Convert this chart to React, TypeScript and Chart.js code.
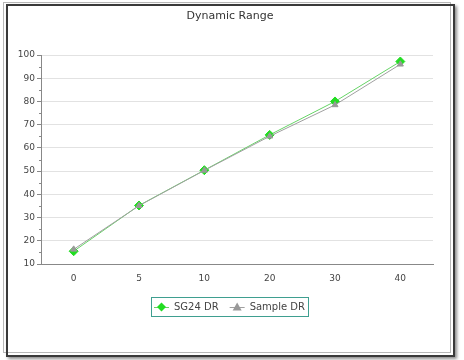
import React, { useEffect, useRef } from "react";
import { Chart, registerables } from "chart.js";

Chart.register(...registerables);

const categories = ["0", "5", "10", "20", "30", "40"];
const sg24Values = [15.5, 35.2, 50.4, 65.6, 80, 97.2];
const sampleValues = [16.3, 35.1, 50.3, 65, 78.5, 96];
const seriesNames = ["SG24 DR", "Sample DR"];
const titleText = "Dynamic Range";
const yMin = 10;
const yMax = 100;
const yStep = 10;

const FONT = "'DejaVu Sans', sans-serif";

const minorTicks = {
  id: "minorTicks",
  afterDraw(chart: any) {
    const y = chart.scales.y;
    const ctx = chart.ctx;
    ctx.save();
    ctx.strokeStyle = "#888";
    ctx.lineWidth = 1;
    for (let v = yMin + yStep / 2; v < yMax; v += yStep) {
      const py = Math.round(y.getPixelForValue(v)) + 0.5;
      ctx.beginPath();
      ctx.moveTo(chart.chartArea.left - 2, py);
      ctx.lineTo(chart.chartArea.left, py);
      ctx.stroke();
    }
    ctx.restore();
  },
};

const chartTitle = {
  id: "chartTitle",
  afterDraw(chart: any) {
    const ctx = chart.ctx;
    ctx.save();
    ctx.font = `11px ${FONT}`;
    ctx.fillStyle = "#333";
    ctx.textAlign = "center";
    ctx.textBaseline = "middle";
    ctx.fillText(titleText, chart.width / 2 - 2, 16);
    ctx.restore();
  },
};

const boxLegend = {
  id: "boxLegend",
  afterDraw(chart: any) {
    const ctx = chart.ctx;
    const ds = chart.data.datasets;
    ctx.save();
    ctx.font = `10px ${FONT}`;
    const pad = 3;
    const lineLen = 15;
    const gapText = 5;
    const gapItem = 11;
    const widths = ds.map((d: any) => ctx.measureText(d.label).width);
    let total = pad * 2;
    widths.forEach((w: number, i: number) => {
      total += lineLen + gapText + w + (i < widths.length - 1 ? gapItem : 0);
    });
    const boxTop = 297;
    const boxH = 19;
    const left = Math.round(chart.width / 2 - 2.5 - total / 2);
    ctx.strokeStyle = "#3f9f90";
    ctx.lineWidth = 1;
    ctx.strokeRect(left + 0.5, boxTop + 0.5, Math.round(total), boxH);
    let x = left + pad;
    const cy = boxTop + boxH / 2 + 0.5;
    ds.forEach((d: any, i: number) => {
      ctx.strokeStyle = d.borderColor;
      ctx.beginPath();
      ctx.moveTo(x, Math.round(cy) + 0.5);
      ctx.lineTo(x + lineLen, Math.round(cy) + 0.5);
      ctx.stroke();
      const mx = x + lineLen / 2;
      ctx.fillStyle = d.pointBackgroundColor;
      ctx.beginPath();
      if (d.pointStyle === "rectRot") {
        const r = 4.5;
        ctx.moveTo(mx, cy - r);
        ctx.lineTo(mx + r, cy);
        ctx.lineTo(mx, cy + r);
        ctx.lineTo(mx - r, cy);
      } else {
        const r = 4.5;
        ctx.moveTo(mx, cy - r);
        ctx.lineTo(mx + r, cy + r * 0.75);
        ctx.lineTo(mx - r, cy + r * 0.75);
      }
      ctx.closePath();
      ctx.fill();
      x += lineLen + gapText;
      ctx.fillStyle = "#444";
      ctx.textBaseline = "middle";
      ctx.fillText(d.label, x, cy);
      x += widths[i] + gapItem;
    });
    ctx.restore();
  },
};

export default function App() {
  const ref = useRef<HTMLCanvasElement>(null);
  useEffect(() => {
    if (!ref.current) return;
    const chart = new Chart(ref.current, {
      type: "line",
      data: {
        labels: categories,
        datasets: [
          {
            label: seriesNames[0],
            data: sg24Values,
            borderColor: "#66d466",
            backgroundColor: "#22dd22",
            pointBackgroundColor: "#22dd22",
            pointBorderColor: "#22dd22",
            pointStyle: "rectRot",
            pointRadius: 4.5,
            borderWidth: 1,
            tension: 0,
            order: 1,
          },
          {
            label: seriesNames[1],
            data: sampleValues,
            borderColor: "#a0a0a0",
            backgroundColor: "#999999",
            pointBackgroundColor: "#999999",
            pointBorderColor: "#999999",
            pointStyle: "triangle",
            pointRadius: 3.5,
            borderWidth: 1,
            tension: 0,
            order: 0,
          },
        ] as any,
      },
      options: {
        animation: false,
        responsive: false,
        layout: { padding: { left: 10, right: 31, top: 55, bottom: 0 } },
        plugins: {
          legend: { display: false },
          tooltip: { enabled: false },
          title: { display: false },
        },
        scales: {
          x: {
            type: "category",
            offset: true,
            grid: { display: false, drawTicks: false },
            border: { color: "#888", width: 1 },
            ticks: { color: "#444", font: { family: FONT, size: 9 }, padding: 9 },
            afterFit(scale: any) {
              scale.height = 96;
            },
          },
          y: {
            min: yMin,
            max: yMax,
            ticks: {
              stepSize: yStep,
              color: "#444",
              font: { family: FONT, size: 9 },
              padding: 2,
            },
            grid: {
              color: "#e2e2e2",
              tickColor: "#888",
              tickLength: 4,
            },
            border: { color: "#888", width: 1 },
            afterFit(scale: any) {
              scale.width = 31;
            },
          },
        },
      } as any,
      plugins: [minorTicks, chartTitle, boxLegend],
    });
    return () => chart.destroy();
  }, []);

  return (
    <div style={{ position: "fixed", left: 0, top: 0, width: 464, height: 360, background: "#fff", overflow: "hidden" }}>
      <canvas ref={ref} width={464} height={360} style={{ position: "absolute", left: 0, top: 0 }} />
      <div style={{ position: "absolute", left: 3, top: 2, width: 446, height: 349, border: "1px solid #b8b8b8", pointerEvents: "none" }} />
      <div style={{ position: "absolute", left: 6, top: 4, width: 445, height: 349, border: "2px solid #3a3a3a", boxShadow: "2px 2px 3px rgba(0,0,0,0.45)", pointerEvents: "none" }} />
    </div>
  );
}
